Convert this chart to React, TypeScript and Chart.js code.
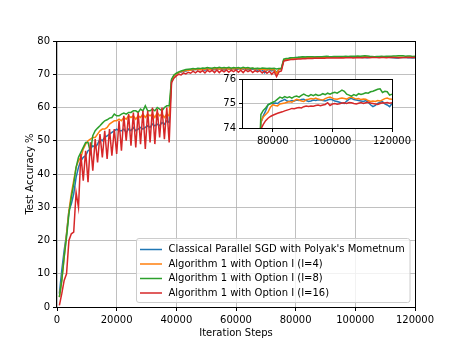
import React, { useEffect, useRef } from "react";
import { Chart, registerables } from "chart.js";

Chart.register(...registerables);

// Iteration steps at which the test accuracy was recorded
const steps = Array.from({ length: 150 }, (_, i) => (i + 1) * 800);

const seriesLabels = [
  "Classical Parallel SGD with Polyak's Mometnum",
  "Algorithm 1 with Option I (I=4)",
  "Algorithm 1 with Option I (I=8)",
  "Algorithm 1 with Option I (I=16)",
];

const seriesColors = ["#1f77b4", "#ff7f0e", "#2ca02c", "#d62728"];

const sgdMomentum = [
  4, 11, 17, 22, 29, 31, 34, 39, 42, 44, 45, 45.5, 47, 47.5, 48.5, 48, 49, 50.5, 50, 51,
  51.5, 52, 52.5, 53, 53.5, 53, 53, 53.5, 52.5, 53.5, 53, 54, 53, 53.5, 54, 53.5, 54, 54.5, 54, 55,
  54.5, 55, 54.5, 55.5, 55, 56, 55.5,
  68.2, 69.5, 70.1, 70.4, 70.7, 70.9, 71.0, 71.2, 71.3, 71.3, 71.5, 71.4, 71.6, 71.5, 71.2, 71.6,
  71.5, 71.6, 71.4, 71.7, 71.5, 71.6, 71.3, 71.7, 71.6, 71.5, 71.7, 71.4, 71.6, 71.7, 71.5, 71.7,
  71.4, 71.6, 71.5, 71.4, 71.2, 71.5, 71.3, 70.4, 71.3, 71.4, 71.0, 71.4, 70.6, 71.4, 71.5,
  74.2, 74.5, 74.7, 74.95, 75.0, 75.0, 75.02, 75.0, 75.08, 75.12,
  75.17, 75.1, 75.08, 75.12, 75.1, 75.14, 75.12, 75.16, 75.17, 75.12,
  75.08, 75.1, 75.14, 75.12, 75.15, 75.14, 75.12, 75.1, 75.14, 75.17,
  75.15, 75.1, 75.08, 75.05, 75.02, 75.0, 75.1, 75.18, 75.21, 75.16,
  75.14, 75.12, 75.1, 75.08, 75.12, 75.05, 74.95, 74.87, 74.92, 75.0,
  75.05, 75.08, 74.98, 74.94, 74.87, 75.0,
];

const optionI4 = [
  3, 8, 15, 22, 29, 34, 38, 42, 44, 45, 47.5, 49, 50, 50.5, 51, 51, 52, 53, 53.5, 53.5,
  54, 55, 55.5, 56, 56, 56.5, 56, 57, 56.5, 57.5, 57, 57.5, 56.5, 57.5, 57, 58, 57, 58, 57.5, 58,
  57, 58.5, 57.5, 58, 57, 58, 57.5,
  68.2, 69.5, 70.1, 70.5, 70.8, 71.0, 71.1, 71.3, 71.2, 71.5, 71.4, 71.6, 71.3, 71.6, 71.5, 71.7,
  71.4, 71.7, 71.6, 71.8, 71.5, 71.7, 71.6, 71.8, 71.5, 71.7, 71.6, 71.8, 71.7, 71.5, 71.8, 71.6,
  71.7, 71.6, 71.8, 71.5, 71.7, 71.4, 71.6, 71.5, 71.2, 71.6, 71.3, 71.5, 70.2, 71.5, 71.6,
  74.25, 74.45, 74.55, 74.65, 74.85, 74.95, 74.92, 74.9, 74.98, 75.0,
  75.02, 75.05, 75.08, 75.05, 75.12, 75.17, 75.14, 75.1, 75.08, 75.15,
  75.17, 75.2, 75.18, 75.22, 75.18, 75.15, 75.14, 75.2, 75.24, 75.26,
  75.22, 75.18, 75.17, 75.2, 75.22, 75.2, 75.18, 75.24, 75.26, 75.22,
  75.18, 75.2, 75.16, 75.18, 75.17, 75.12, 75.08, 75.1, 75.08, 75.12,
  75.1, 75.15, 75.2, 75.22, 75.18, 75.17,
];

const optionI8 = [
  3, 8, 15, 21, 28, 33, 37, 42, 45, 46.5, 48, 49.5, 49.5, 46.5, 51.5, 53, 53.8, 54.5, 55.3, 56,
  56.3, 56.8, 57, 58, 57.5, 57.5, 58, 58.3, 58, 58.5, 58.5, 59, 59, 58.5, 59.5, 59, 60.5, 59, 59, 59.5,
  59, 60, 59.5, 59, 60, 60.5, 60.5,
  68.5, 69.8, 70.3, 70.7, 71.0, 71.2, 71.4, 71.5, 71.6, 71.7, 71.6, 71.8, 71.7, 71.9, 71.8, 72.0,
  71.9, 71.8, 72.0, 71.9, 72.1, 71.9, 72.0, 71.9, 72.1, 71.8, 72.0, 71.9, 72.0, 71.8, 72.1, 71.9,
  72.0, 71.8, 71.9, 71.7, 71.8, 71.7, 71.9, 71.8, 71.7, 71.8, 71.7, 71.8, 71.6, 71.7, 71.8,
  74.55, 74.72, 74.82, 74.95, 75.0, 75.05, 75.1, 75.18, 75.26, 75.22,
  75.28, 75.24, 75.27, 75.22, 75.28, 75.3, 75.26, 75.33, 75.38, 75.33,
  75.3, 75.36, 75.32, 75.37, 75.33, 75.35, 75.4, 75.36, 75.42, 75.38,
  75.43, 75.46, 75.42, 75.48, 75.55, 75.5, 75.38, 75.34, 75.3, 75.36,
  75.32, 75.4, 75.37, 75.4, 75.44, 75.42, 75.48, 75.5, 75.54, 75.58,
  75.6, 75.45, 75.5, 75.48, 75.34, 75.38,
];

const optionI16 = [
  0.5, 4, 8, 10, 20, 22, 22.5, 34.5, 30, 46, 38, 47, 37.5, 49.5, 41, 50.5, 43.5, 52, 45, 53,
  44.5, 53.5, 45.5, 53.5, 46, 56, 47, 57.5, 50, 58, 48.5, 58.5, 48, 58.5, 49, 59, 47.5, 59, 49.5, 60,
  49, 59.5, 51, 60, 50.5, 60, 49.5,
  67.5, 68.8, 69.5, 70.0, 69.8, 70.4, 70.1, 70.6, 70.3, 70.9, 70.4, 71.0, 70.6, 71.1, 70.4, 71.2,
  70.7, 71.2, 70.5, 71.3, 70.5, 71.2, 70.7, 71.3, 70.6, 71.2, 70.8, 71.3, 70.6, 71.2, 70.5, 71.3,
  70.8, 71.2, 70.5, 71.1, 70.7, 71.1, 70.4, 71.0, 70.3, 70.9, 70.0, 70.8, 69.3, 70.7, 71.0,
  73.95, 74.15, 74.3, 74.4, 74.47, 74.52, 74.56, 74.6, 74.63, 74.66,
  74.7, 74.73, 74.76, 74.8, 74.79, 74.82, 74.84, 74.82, 74.87, 74.9,
  74.88, 74.9, 74.89, 74.92, 74.94, 74.91, 74.94, 74.96, 75.03, 74.92,
  74.98, 75.0, 74.97, 74.99, 75.02, 75.03, 75.0, 75.04, 75.03, 75.0,
  74.98, 75.01, 75.04, 75.0, 75.03, 75.05, 75.02, 75.0, 74.98, 74.96,
  75.0, 75.03, 75.02, 75.04, 75.01, 75.03,
];

const seriesValues = [sgdMomentum, optionI4, optionI8, optionI16];

const mainXTicks = { min: 0, max: 120000, step: 20000 };
const mainYTicks = { min: 0, max: 80, step: 10 };
const insetXTicks = [80000, 100000, 120000];
const insetYTicks = { min: 74, max: 76, step: 1 };

const FONT = { family: "'DejaVu Sans', sans-serif", size: 10 };
const GRID = "#b0b0b0";

function makeDatasets() {
  return seriesLabels.map((label, i) => ({
    label,
    data: steps.map((s, j) => ({ x: s, y: seriesValues[i][j] })),
    borderColor: seriesColors[i],
    backgroundColor: seriesColors[i],
    borderWidth: 1.5,
    pointRadius: 0,
    tension: 0,
    fill: false,
    order: 3 - i,
  }));
}

const framePlugin = {
  id: "frameBox",
  afterDatasetsDraw(chart: any) {
    const { ctx, chartArea: a } = chart;
    ctx.save();
    ctx.strokeStyle = "#000";
    ctx.lineWidth = 1;
    const l = Math.round(a.left) - 0.5;
    const t = Math.round(a.top) + 0.5;
    const r = Math.round(a.right) + 0.5;
    const b = Math.round(a.bottom) + 0.5;
    ctx.strokeRect(l, t, r - l, b - t);
    ctx.restore();
  },
};

const whiteAreaPlugin = {
  id: "whiteArea",
  beforeDraw(chart: any) {
    const { ctx, chartArea: a } = chart;
    ctx.save();
    ctx.fillStyle = "#ffffff";
    ctx.fillRect(a.left, a.top, a.right - a.left, a.bottom - a.top);
    ctx.restore();
  },
};

const legendPlugin = {
  id: "boxLegend",
  afterDraw(chart: any) {
    const { ctx } = chart;
    const x0 = 136.5, y0 = 238.5, w = 273.5, h = 64, r = 2.5;
    ctx.save();
    ctx.beginPath();
    ctx.moveTo(x0 + r, y0);
    ctx.lineTo(x0 + w - r, y0);
    ctx.arcTo(x0 + w, y0, x0 + w, y0 + r, r);
    ctx.lineTo(x0 + w, y0 + h - r);
    ctx.arcTo(x0 + w, y0 + h, x0 + w - r, y0 + h, r);
    ctx.lineTo(x0 + r, y0 + h);
    ctx.arcTo(x0, y0 + h, x0, y0 + h - r, r);
    ctx.lineTo(x0, y0 + r);
    ctx.arcTo(x0, y0, x0 + r, y0, r);
    ctx.closePath();
    ctx.fillStyle = "rgba(255,255,255,0.8)";
    ctx.fill();
    ctx.strokeStyle = "#cccccc";
    ctx.lineWidth = 1;
    ctx.stroke();
    ctx.font = `10px ${FONT.family}`;
    ctx.textBaseline = "middle";
    ctx.textAlign = "left";
    chart.data.datasets.forEach((ds: any, i: number) => {
      const y = 249.5 + i * 14.5;
      ctx.beginPath();
      ctx.moveTo(140, y);
      ctx.lineTo(162, y);
      ctx.strokeStyle = ds.borderColor;
      ctx.lineWidth = 1.5;
      ctx.stroke();
      ctx.fillStyle = "#000";
      ctx.fillText(ds.label, 168.5, y);
    });
    ctx.restore();
  },
};

export default function App() {
  const mainRef = useRef<HTMLCanvasElement>(null);
  const insetRef = useRef<HTMLCanvasElement>(null);

  useEffect(() => {
    Chart.defaults.font.family = FONT.family;
    Chart.defaults.font.size = FONT.size;
    Chart.defaults.color = "#000";

    const main = new Chart(mainRef.current as HTMLCanvasElement, {
      type: "line",
      data: { datasets: makeDatasets() as any },
      options: {
        animation: false,
        responsive: false,
        devicePixelRatio: 1,
        layout: { padding: { left: 0, right: 46, top: 41, bottom: 0 } },
        plugins: { legend: { display: false }, tooltip: { enabled: false } },
        scales: {
          x: {
            type: "linear",
            min: mainXTicks.min,
            max: mainXTicks.max,
            ticks: {
              stepSize: mainXTicks.step,
              callback: (v: any) => String(v),
              padding: 3,
              maxRotation: 0,
              autoSkip: false,
              color: "#000",
              font: FONT,
            },
            grid: { color: GRID, lineWidth: 0.8, tickColor: "#000", tickLength: 4, tickWidth: 1 },
            border: { display: false },
            title: {
              display: true,
              text: "Iteration Steps",
              color: "#000",
              font: FONT,
              padding: { top: 0, bottom: 7 },
            },
            afterFit: (s: any) => {
              s.height = 39;
            },
          },
          y: {
            type: "linear",
            min: mainYTicks.min,
            max: mainYTicks.max,
            ticks: {
              stepSize: mainYTicks.step,
              padding: 3,
              color: "#000",
              font: FONT,
            },
            grid: { color: GRID, lineWidth: 0.8, tickColor: "#000", tickLength: 4, tickWidth: 1 },
            border: { display: false },
            title: {
              display: true,
              text: "Test Accuracy %",
              color: "#000",
              font: FONT,
              padding: { top: 24, bottom: 0 },
            },
            afterFit: (s: any) => {
              s.width = 57;
            },
          },
        },
      } as any,
      plugins: [framePlugin, legendPlugin],
    });

    const inset = new Chart(insetRef.current as HTMLCanvasElement, {
      type: "line",
      data: { datasets: makeDatasets() as any },
      options: {
        animation: false,
        responsive: false,
        devicePixelRatio: 1,
        layout: { padding: { left: 218, right: 69, top: 79, bottom: 198 } },
        plugins: { legend: { display: false }, tooltip: { enabled: false } },
        scales: {
          x: {
            type: "linear",
            min: 70000,
            max: 120000,
            afterBuildTicks: (s: any) => {
              s.ticks = insetXTicks.map((value) => ({ value }));
            },
            ticks: {
              callback: (v: any) => String(v),
              padding: 3,
              maxRotation: 0,
              autoSkip: false,
              color: "#000",
              font: FONT,
            },
            grid: { color: GRID, lineWidth: 0.8, tickColor: "#000", tickLength: 4, tickWidth: 1 },
            border: { display: false },
            afterFit: (s: any) => {
              s.height = 20;
            },
          },
          y: {
            type: "linear",
            min: insetYTicks.min,
            max: insetYTicks.max,
            ticks: { stepSize: insetYTicks.step, padding: 3, color: "#000", font: FONT },
            grid: { color: GRID, lineWidth: 0.8, tickColor: "#000", tickLength: 4, tickWidth: 1 },
            border: { display: false },
            afterFit: (s: any) => {
              s.width = 25;
            },
          },
        },
      } as any,
      plugins: [whiteAreaPlugin, framePlugin],
    });

    return () => {
      main.destroy();
      inset.destroy();
    };
  }, []);

  return (
    <div style={{ position: "absolute", left: 0, top: 0, width: 461, height: 346, background: "#fff" }}>
      <canvas
        ref={mainRef}
        width={461}
        height={346}
        style={{ position: "absolute", left: 0, top: 0, width: 461, height: 346 }}
      />
      <canvas
        ref={insetRef}
        width={461}
        height={346}
        style={{ position: "absolute", left: 0, top: 0, width: 461, height: 346 }}
      />
    </div>
  );
}
